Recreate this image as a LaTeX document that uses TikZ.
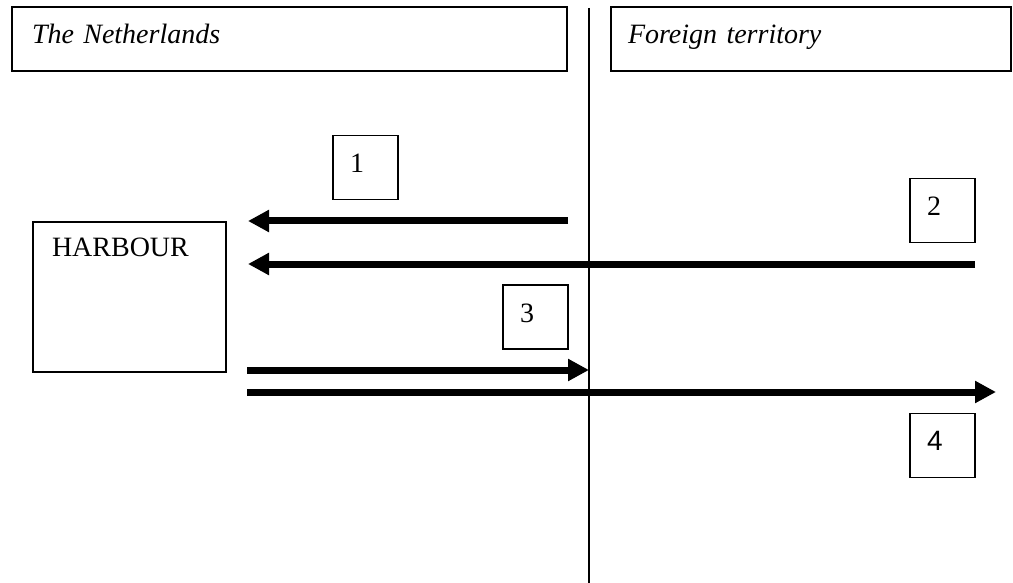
\documentclass[tikz,border=0pt]{standalone}
\usepackage{fontspec}
\setmainfont{Liberation Serif}
\newfontfamily\arialfont{Liberation Sans}
\usetikzlibrary{arrows.meta}
\begin{document}
\begin{tikzpicture}[x=1pt,y=-1pt,
  every node/.style={font=\fontsize{28pt}{33pt}\selectfont},
  regionbox/.style={draw, line width=1.1pt, minimum height=64pt, inner ysep=0pt,
    align=left, text height=19pt, text depth=9pt, font=\fontsize{28pt}{33pt}\selectfont\itshape},
  numbox/.style={draw, line width=1.1pt, minimum width=65pt, minimum height=64pt,
    inner xsep=17pt, inner ysep=0pt, text width=31pt, align=left,
    text height=19pt, text depth=9pt},
  portbox/.style={draw, line width=1.1pt, minimum height=150pt, inner xsep=19pt,
    inner ysep=0pt, text width=155pt, align=left, text height=19pt, text depth=99pt},
  divider/.style={line width=1.2pt},
  flow/.style={line width=7pt, -{Triangle[length=21pt,width=21pt]}},
]
\useasboundingbox (0,0) rectangle (1013,583);

% region headers
\node[regionbox, inner xsep=20pt, text width=515pt] (nl) at (289.5,39) {The Netherlands};
\node[regionbox, inner xsep=17pt, text width=366pt] (ft) at (811,39) {Foreign territory};

% border line
\coordinate (vtop) at (589,8);
\coordinate (vbot) at (589,583);
\draw[divider] (vtop) -- (vbot);

% harbour
\node[portbox] (harbour) at (129.5,297) {HARBOUR};

% number boxes
\node[numbox] (n1) at (365.5,167.5) {1};
\node[numbox] (n2) at (942.5,210.5) {2};
\node[numbox] (n3) at (535.5,317) {3};
\node[numbox] (n4) at (942.5,445.5) {\arialfont 4};

% flows
\coordinate (a1s) at (568,221);
\coordinate (a1e) at (248,221);
\coordinate (a2s) at (975,264);
\coordinate (a2e) at (248,264);
\coordinate (a3s) at (247,370);
\coordinate (a3e) at (589,370);
\coordinate (a4s) at (247,392);
\coordinate (a4e) at (996,392);
\draw[flow] (a1s) -- (a1e);
\draw[flow] (a2s) -- (a2e);
\draw[flow] (a3s) -- (a3e);
\draw[flow] (a4s) -- (a4e);
\end{tikzpicture}
\end{document}
